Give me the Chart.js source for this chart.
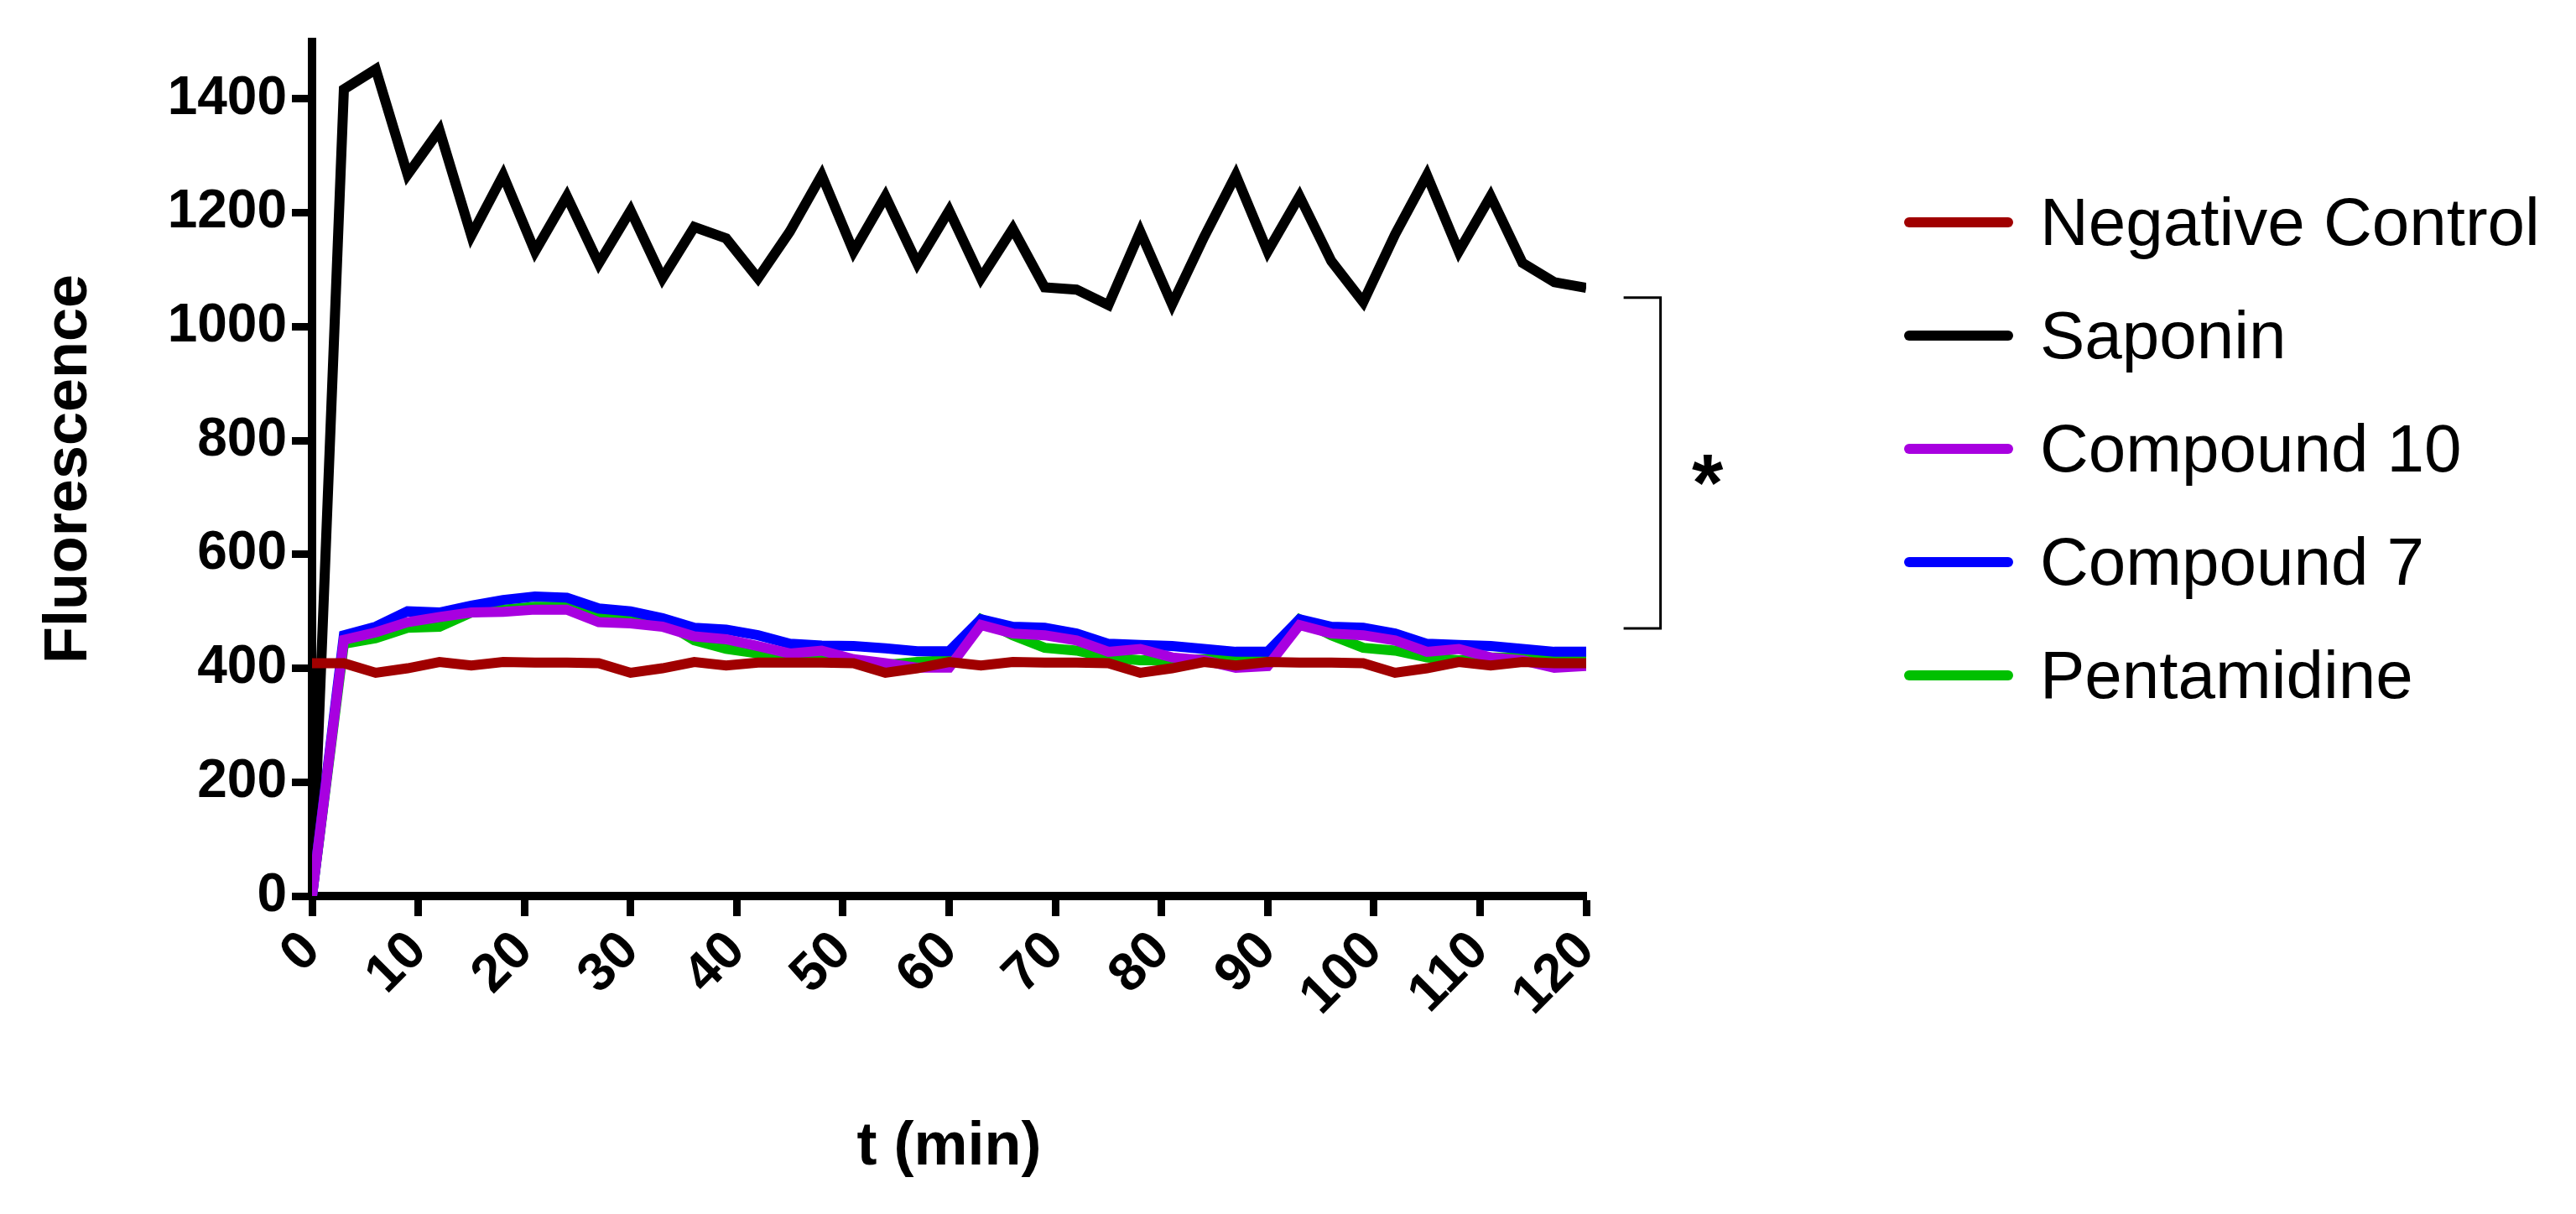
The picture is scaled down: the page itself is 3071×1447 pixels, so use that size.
<!DOCTYPE html>
<html>
<head>
<meta charset="utf-8">
<script src="https://cdn.jsdelivr.net/npm/chart.js@4.4.0/dist/chart.umd.min.js"></script>
<style>
  html, body { margin: 0; padding: 0; background: #fff; }
  #box { position: relative; width: 3071px; height: 1447px; }
  #legend { position: absolute; left: 2270px; top: 197px; font-family: "Liberation Sans", Arial, sans-serif; font-size: 80px; color: #000; }
  #legend div { display: flex; align-items: center; height: 135px; }
  #legend span.sw { display: inline-block; width: 130px; height: 12px; margin-right: 32px; border-radius: 6px; }
</style>
</head>
<body>
<div id="box">
  <canvas id="c" width="3071" height="1447"></canvas>
  <div id="legend"></div>
</div>
<script>
// time points (min)
let times = [0,3,6,9,12,15,18,21,24,27,30,33,36,39,42,45,48,51,54,57,60,63,66,69,72,75,78,81,84,87,90,93,96,99,102,105,108,111,114,117,120];

let negativeControl = [409,409,392,400,411,405,411,410,410,409,392,400,411,405,410,410,410,409,392,400,411,405,411,410,410,409,392,400,411,405,411,410,410,409,392,400,411,405,411,409,409];
let saponin = [0,1417,1452,1267,1345,1160,1266,1132,1229,1111,1204,1085,1175,1155,1085,1167,1266,1132,1229,1111,1204,1085,1172,1069,1065,1038,1167,1039,1157,1266,1132,1229,1115,1043,1162,1266,1132,1229,1112,1078,1068];
let compound10 = [0,450,463,481,490,498,499,503,503,481,479,473,456,451,439,426,431,416,409,401,401,476,461,458,449,429,434,419,414,401,404,476,461,458,449,429,434,419,414,401,404];
let compound7 = [0,458,473,500,498,510,520,526,524,505,500,488,471,468,458,443,440,439,435,430,430,486,473,471,461,443,441,439,434,429,429,486,473,471,461,443,441,439,434,429,429];
let pentamidine = [0,443,453,471,473,498,503,508,508,488,486,483,449,434,426,421,420,414,406,411,414,486,458,436,431,419,414,414,416,419,419,486,458,436,431,419,414,419,419,419,414];

let seriesNames = ["Negative Control","Saponin","Compound 10","Compound 7","Pentamidine"];
let seriesColors = ["#a00000","#000000","#a800e0","#0000ff","#00c000"];
let yTicks = [0,200,400,600,800,1000,1200,1400];
let xTicks = [0,10,20,30,40,50,60,70,80,90,100,110,120];
// significance bracket: span of values and x position (min)
let bracketRange = [470, 1051];
let bracketX = 127;

function toXY(vals) {
    return vals.map((v, i) => ({x: times[i], y: v}));
}

const allData = [negativeControl, saponin, compound10, compound7, pentamidine];
// draw order: red on top, then purple, blue, green, black
const orders = [0, 4, 1, 2, 3];

const bracketPlugin = {
    id: 'bracket',
    afterDatasetsDraw(chart) {
        const ctx = chart.ctx;
        const xs = chart.scales.x, ys = chart.scales.y;
        const x = xs.getPixelForValue(bracketX);
        const y1 = ys.getPixelForValue(bracketRange[1]);
        const y0 = ys.getPixelForValue(bracketRange[0]);
        ctx.save();
        ctx.strokeStyle = '#000';
        ctx.lineWidth = 3;
        ctx.beginPath();
        ctx.moveTo(x - 44, y1); ctx.lineTo(x, y1); ctx.lineTo(x, y0); ctx.lineTo(x - 44, y0);
        ctx.stroke();
        ctx.fillStyle = '#000';
        ctx.font = 'bold 96px "Liberation Sans", Arial, sans-serif';
        ctx.textAlign = 'center';
        ctx.textBaseline = 'middle';
        ctx.fillText('*', x + 56, ys.getPixelForValue((bracketRange[0] + bracketRange[1]) / 2) + 30);
        ctx.restore();
    }
};

const tickFont = {family: '"Liberation Sans", Arial, sans-serif', size: 64, weight: 'bold'};

const chart = new Chart(document.getElementById('c'), {
    type: 'line',
    data: {
        datasets: allData.map((d, i) => ({
            label: seriesNames[i],
            data: toXY(d),
            borderColor: seriesColors[i],
            borderWidth: 12,
            pointRadius: 0,
            tension: 0,
            order: orders[i],
            borderJoinStyle: 'miter'
        }))
    },
    options: {
        responsive: false,
        animation: false,
        devicePixelRatio: 1,
        layout: { padding: {top: 50, right: 1180, left: 0, bottom: 0} },
        plugins: { legend: {display: false}, tooltip: {enabled: false} },
        scales: {
            x: {
                type: 'linear',
                min: 0, max: 120,
                afterBuildTicks: s => { s.ticks = xTicks.map(v => ({value: v})); },
                afterFit: s => { s.height = 379; },
                border: {color: '#000', width: 10},
                grid: {drawOnChartArea: false, color: '#000', tickLength: 24, tickWidth: 9},
                ticks: {color: '#000', font: tickFont, minRotation: 45, maxRotation: 45, padding: 4,
                        callback: v => String(v)},
                title: {display: true, text: 't (min)', color: '#000',
                        font: {family: '"Liberation Sans", Arial, sans-serif', size: 72, weight: 'bold'},
                        padding: {top: 60, bottom: 36}}
            },
            y: {
                type: 'linear',
                min: 0, max: 1500,
                afterBuildTicks: s => { s.ticks = yTicks.map(v => ({value: v})); },
                afterFit: s => { s.width = 372; },
                border: {color: '#000', width: 10},
                grid: {drawOnChartArea: false, color: '#000', tickLength: 24, tickWidth: 9},
                ticks: {color: '#000', font: tickFont, padding: 6, callback: v => String(v)},
                title: {display: true, text: 'Fluorescence', color: '#000',
                        font: {family: '"Liberation Sans", Arial, sans-serif', size: 72, weight: 'bold'},
                        padding: {top: 40, bottom: 10}}
            }
        }
    },
    plugins: [bracketPlugin]
});

let legend = document.getElementById('legend');
seriesNames.forEach((n, i) => {
    let row = document.createElement('div');
    row.innerHTML = `<span class="sw" style="background:${seriesColors[i]}"></span>${n}`;
    legend.appendChild(row);
});
</script>
</body>
</html>
